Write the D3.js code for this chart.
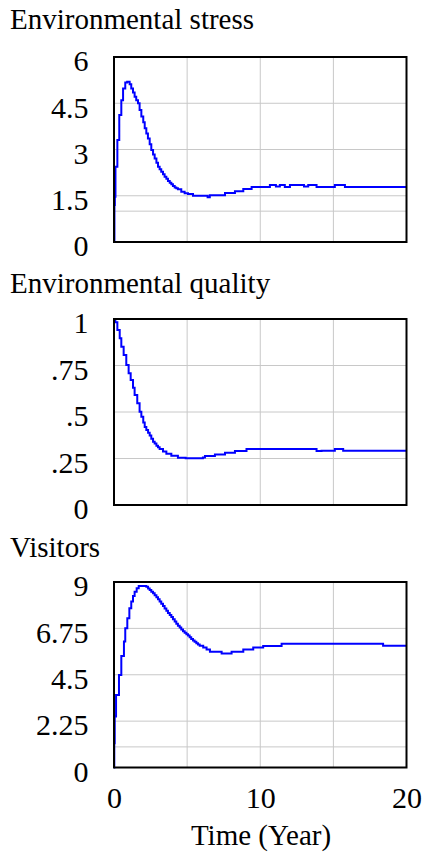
<!DOCTYPE html>
<html>
<head>
<meta charset="utf-8">
<script src="https://cdn.jsdelivr.net/npm/d3@7"></script>
<style>
  html, body { margin: 0; padding: 0; background: #ffffff; overflow: hidden; }
  svg { display: block; }
  text { font-family: "Liberation Serif", "Times New Roman", serif; fill: #000; }
</style>
</head>
<body>
<script>
// ---------------- DATA ----------------
const titles = ["Environmental stress", "Environmental quality", "Visitors"];
const timeTicks = [0, 10, 20];
const timeGrid = [5, 10, 15];
const xLabel = "Time (Year)";

const stressTicks = [0, 1.5, 3, 4.5, 6];
const qualityTicks = [0, 0.25, 0.5, 0.75, 1];
const visitorsTicks = [0, 2.25, 4.5, 6.75, 9];
const referenceLine = 1;

const stressTime = [0, 0.03, 0.06, 0.1, 0.23, 0.36, 0.5, 0.62, 0.77, 0.9, 1.07, 1.18, 1.3, 1.41, 1.52, 1.64, 1.75, 1.87, 2.0, 2.1, 2.21, 2.32, 2.44, 2.55, 2.67, 2.78, 2.9, 3.01, 3.12, 3.23, 3.35, 3.46, 3.58, 3.69, 3.81, 3.92, 4.03, 4.15, 4.26, 4.37, 4.6, 4.83, 5.06, 5.4, 6.4, 6.55, 7.59, 8.27, 8.84, 9.41, 10.66, 11.07, 11.34, 11.68, 12.03, 12.99, 13.28, 13.85, 15.1, 15.79, 20];
const stressValues = [0, 1.2, 1.47, 2.44, 3.31, 4.12, 4.6, 4.98, 5.17, 5.2, 5.12, 4.98, 4.85, 4.71, 4.6, 4.5, 4.28, 4.07, 3.88, 3.69, 3.52, 3.36, 3.17, 2.98, 2.84, 2.71, 2.57, 2.44, 2.36, 2.28, 2.2, 2.12, 2.05, 1.98, 1.92, 1.87, 1.82, 1.77, 1.74, 1.71, 1.63, 1.58, 1.56, 1.5, 1.45, 1.52, 1.59, 1.65, 1.72, 1.78, 1.85, 1.8, 1.85, 1.78, 1.85, 1.8, 1.85, 1.78, 1.85, 1.78, 1.78];

const qualityTime = [0, 0.09, 0.23, 0.39, 0.5, 0.66, 0.84, 1.0, 1.14, 1.3, 1.41, 1.59, 1.75, 1.87, 2.0, 2.1, 2.21, 2.33, 2.44, 2.55, 2.67, 2.78, 2.9, 3.01, 3.12, 3.35, 3.58, 3.92, 4.37, 4.9, 6.08, 6.22, 6.9, 7.59, 8.27, 9.06, 13.85, 14.19, 15.1, 15.67, 20];
const qualityValues = [1.0, 0.982, 0.941, 0.896, 0.851, 0.806, 0.753, 0.708, 0.672, 0.631, 0.591, 0.547, 0.502, 0.475, 0.444, 0.42, 0.403, 0.388, 0.373, 0.356, 0.34, 0.33, 0.319, 0.31, 0.301, 0.287, 0.276, 0.265, 0.254, 0.251, 0.256, 0.263, 0.272, 0.281, 0.29, 0.301, 0.29, 0.292, 0.301, 0.292, 0.292];

const visitorsTime = [0, 0.02, 0.05, 0.14, 0.34, 0.5, 0.68, 0.77, 0.91, 1.05, 1.18, 1.3, 1.41, 1.55, 1.69, 2.21, 2.33, 2.44, 2.55, 2.67, 2.78, 2.9, 3.01, 3.12, 3.23, 3.35, 3.46, 3.58, 3.69, 3.81, 3.92, 4.03, 4.15, 4.26, 4.37, 4.49, 4.6, 4.72, 4.83, 4.95, 5.06, 5.17, 5.28, 5.4, 5.51, 5.63, 5.74, 5.86, 6.1, 6.33, 6.56, 7.36, 8.04, 8.84, 9.52, 10.2, 11.46, 18.4, 20];
const visitorsValues = [0, 1.18, 2.47, 3.52, 4.49, 5.41, 6.11, 6.76, 7.24, 7.73, 8.05, 8.32, 8.53, 8.7, 8.81, 8.77, 8.69, 8.61, 8.53, 8.45, 8.36, 8.26, 8.16, 8.05, 7.95, 7.84, 7.72, 7.61, 7.5, 7.4, 7.3, 7.19, 7.08, 6.97, 6.88, 6.79, 6.7, 6.61, 6.54, 6.47, 6.4, 6.32, 6.24, 6.16, 6.1, 6.03, 5.97, 5.91, 5.82, 5.72, 5.62, 5.53, 5.62, 5.72, 5.82, 5.9, 6.01, 5.91, 5.91];

// ---------------- LAYOUT ----------------
const W = 422, H = 853;
const svg = d3.select("body").append("svg").attr("width", W).attr("height", H);

const x = d3.scaleLinear().domain([0, 20]).range([114, 406.5]);

const panels = [
  { title: titles[0], time: stressTime, values: stressValues, ticks: stressTicks, top: 57, bottom: 242, titleY: 29 },
  { title: titles[1], time: qualityTime, values: qualityValues, ticks: qualityTicks, top: 319, bottom: 505, titleY: 293 },
  { title: titles[2], time: visitorsTime, values: visitorsValues, ticks: visitorsTicks, top: 582, bottom: 767.5, titleY: 556.5 }
];

const fmt = v => {
  let s = d3.format("")(v);
  if (s.startsWith("0.")) s = s.slice(1);
  return s;
};

panels.forEach((p, i) => {
  const y = d3.scaleLinear().domain(d3.extent(p.ticks)).range([p.bottom, p.top]);
  const g = svg.append("g");

  // title
  g.append("text").attr("x", 10).attr("y", p.titleY)
    .attr("font-size", 29).text(p.title);

  // grid
  const hGrid = p.ticks.slice(1, -1).concat(referenceLine < d3.max(p.ticks) ? [referenceLine] : []);
  g.append("g").selectAll("line").data(hGrid).join("line")
    .attr("x1", x.range()[0]).attr("x2", x.range()[1])
    .attr("y1", d => y(d)).attr("y2", d => y(d))
    .attr("stroke", "#c8c8c8").attr("stroke-width", 1);
  g.append("g").selectAll("line").data(timeGrid).join("line")
    .attr("x1", d => x(d)).attr("x2", d => x(d))
    .attr("y1", p.top).attr("y2", p.bottom)
    .attr("stroke", "#c8c8c8").attr("stroke-width", 1);

  // y axis labels
  const ax = g.append("g").attr("transform", `translate(${x.range()[0]},0)`)
    .call(d3.axisLeft(y).tickValues(p.ticks).tickFormat(fmt).tickSize(0).tickPadding(25.5));
  ax.select(".domain").remove();
  ax.selectAll("text").attr("font-size", 30).attr("font-family", "Liberation Serif")
    .attr("dy", "0.46em").attr("fill", "#000");

  // line
  const data = p.time.map((t, k) => [t, p.values[k]]);
  g.append("path").datum(data)
    .attr("fill", "none").attr("stroke", "#0000ff").attr("stroke-width", 2)
    .attr("d", d3.line().x(d => x(d[0])).y(d => y(d[1])).curve(d3.curveStepAfter));

  // frame
  g.append("rect").attr("x", x.range()[0]).attr("y", p.top)
    .attr("width", x.range()[1] - x.range()[0]).attr("height", p.bottom - p.top)
    .attr("fill", "none").attr("stroke", "#000").attr("stroke-width", 2);

  if (i === panels.length - 1) {
    const xa = svg.append("g").attr("transform", `translate(0,${p.bottom})`)
      .call(d3.axisBottom(x).tickValues(timeTicks).tickSize(0).tickPadding(19));
    xa.select(".domain").remove();
    xa.selectAll("text").attr("font-size", 30).attr("font-family", "Liberation Serif")
      .attr("dy", "0.71em").attr("fill", "#000");
    svg.append("text").attr("x", 261).attr("y", 845).attr("text-anchor", "middle")
      .attr("font-size", 29).text(xLabel);
  }
});
</script>
</body>
</html>
